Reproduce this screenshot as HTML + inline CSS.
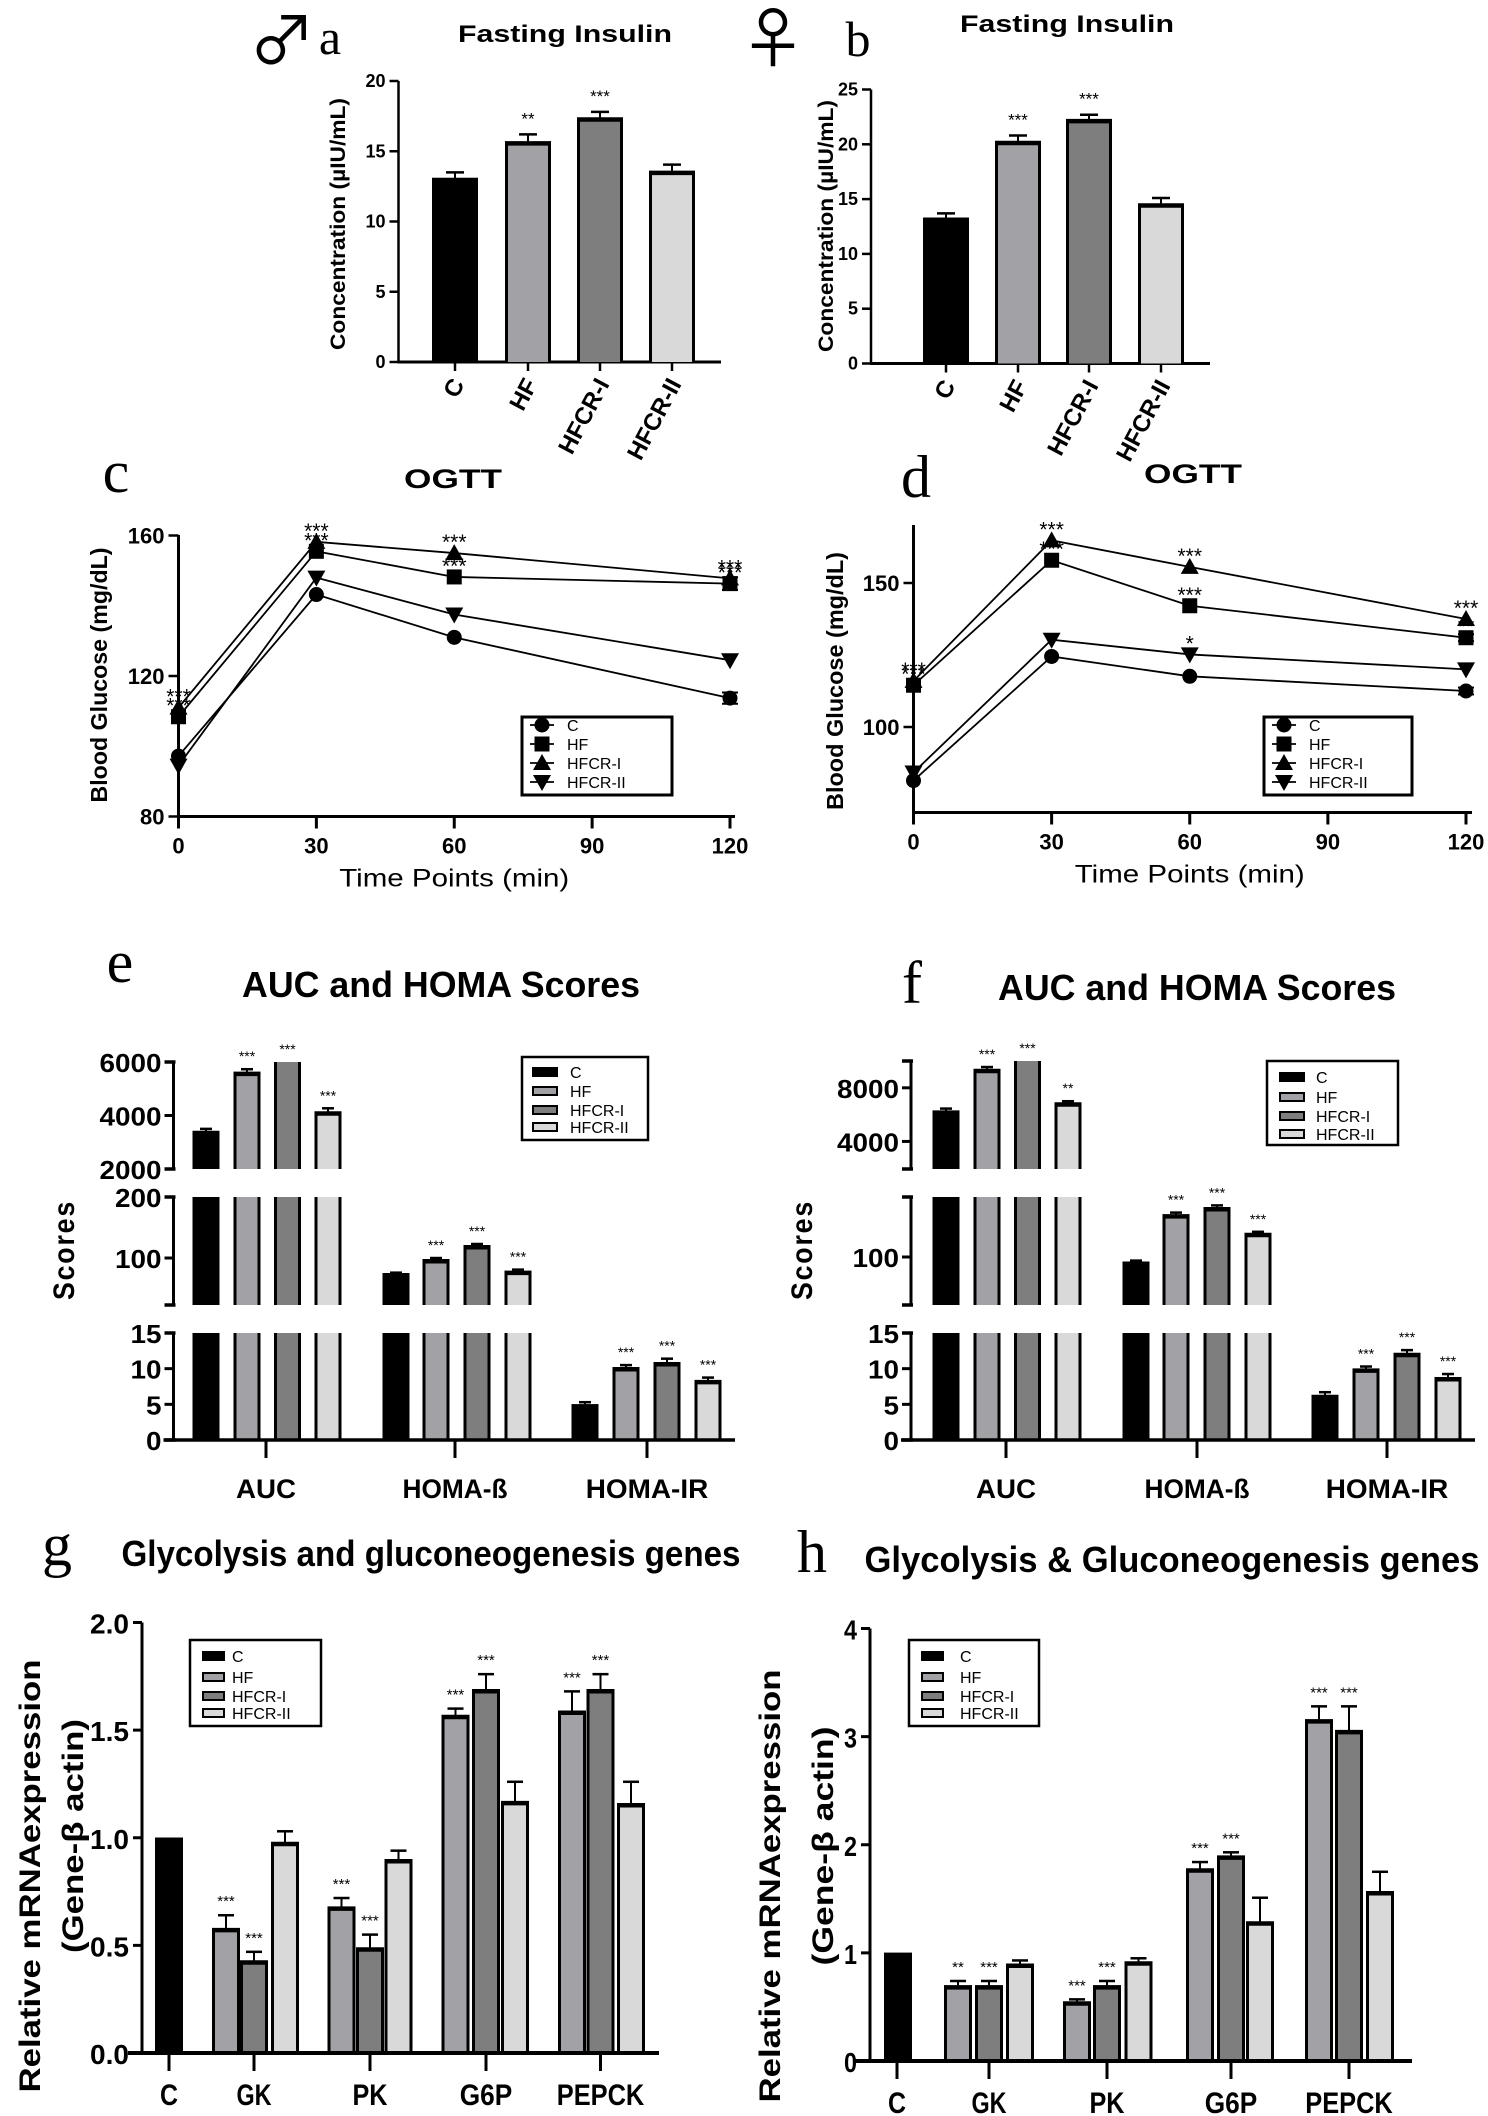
<!DOCTYPE html>
<html><head><meta charset="utf-8"><style>
html,body{margin:0;padding:0;background:#fff}
svg{display:block}
</style></head><body>
<svg id="fig" width="1488" height="2116" viewBox="0 0 1488 2116" xmlns="http://www.w3.org/2000/svg" font-family="'Liberation Sans', Arial, sans-serif"></svg>
<script>
// ---------- data ----------
const groups=['C','HF','HFCR-I','HFCR-II'];
const insulinMale=[13.1,15.7,17.4,13.6];
const insulinMaleErr=[0.4,0.5,0.4,0.45];
const insulinMaleSig=['','**','***',''];
const insulinFemale=[13.3,20.3,22.3,14.6];
const insulinFemaleErr=[0.4,0.5,0.4,0.5];
const insulinFemaleSig=['','***','***',''];
const insulinMaleTicks=[0,5,10,15,20];
const insulinFemaleTicks=[0,5,10,15,20,25];

const timePoints=[0,30,60,120];
const timeTicks=[0,30,60,90,120];
const ogttMaleC=[97.2,143.2,131,113.7];
const ogttMaleHF=[108.4,155.5,148.2,146.3];
const ogttMaleHFCR1=[111,158.2,155,147.8];
const ogttMaleHFCR2=[94.5,148,137.5,124.5];
const ogttMaleErrC=[0,0,0,1.6];
const ogttMaleErrHF=[0,0,0,1.8];
const ogttMaleSigHF=['***','***','***','***'];
const ogttMaleSigHFCR1=['***','***','***','***'];
const ogttMaleSigHFCR2=['','','',''];
const ogttMaleTicks=[80,120,160];
const ogttFemaleC=[81.4,124.5,117.6,112.5];
const ogttFemaleHF=[114.5,157.9,142.1,131];
const ogttFemaleHFCR1=[116,164.8,155.6,137.5];
const ogttFemaleHFCR2=[84.2,130.3,125.2,120];
const ogttFemaleErrC=[0,0,0,1.2];
const ogttFemaleErrHF=[0,0,0,1.2];
const ogttFemaleSigHF=['***','***','***','**'];
const ogttFemaleSigHFCR1=['***','***','***','***'];
const ogttFemaleSigHFCR2=['','','*',''];
const ogttFemaleTicks=[100,150];

const scoreCats=['AUC','HOMA-ß','HOMA-IR'];
const aucMale=[3420,5630,6250,4150];
const aucMaleErr=[80,100,0,120];
const aucMaleSig=['','***','***','***'];
const betaMale=[75,98,121,79];
const betaMaleErr=[1,2,2,2];
const betaMaleSig=['','***','***','***'];
const irMale=[5.0,10.2,10.9,8.4];
const irMaleErr=[0.3,0.3,0.5,0.35];
const irMaleSig=['','***','***','***'];
const aucFemale=[6300,9400,10100,6900];
const aucFemaleErr=[150,150,0,100];
const aucFemaleSig=['','***','***','**'];
const betaFemale=[92,171,183,140];
const betaFemaleErr=[2,3,3,2];
const betaFemaleSig=['','***','***','***'];
const irFemale=[6.3,10.0,12.2,8.8];
const irFemaleErr=[0.4,0.3,0.4,0.45];
const irFemaleSig=['','***','***','***'];

const genes=['C','GK','PK','G6P','PEPCK'];
const geneCtrl=1.0;
const gHF=[0.58,0.68,1.57,1.59];
const gHFErr=[0.06,0.04,0.03,0.09];
const gHFSig=['***','***','***','***'];
const gHFCR1=[0.43,0.49,1.69,1.69];
const gHFCR1Err=[0.04,0.06,0.07,0.07];
const gHFCR1Sig=['***','***','***','***'];
const gHFCR2=[0.98,0.90,1.17,1.16];
const gHFCR2Err=[0.05,0.04,0.09,0.10];
const gTicks=[0,0.5,1.0,1.5,2.0];
const hHF=[0.70,0.55,1.78,3.16];
const hHFErr=[0.04,0.02,0.06,0.12];
const hHFSig=['**','***','***','***'];
const hHFCR1=[0.70,0.70,1.90,3.06];
const hHFCR1Err=[0.04,0.04,0.03,0.22];
const hHFCR1Sig=['***','***','***','***'];
const hHFCR2=[0.90,0.92,1.29,1.57];
const hHFCR2Err=[0.03,0.03,0.22,0.18];
const hTicks=[0,1,2,3,4];

// ---------- helpers ----------
const NS='http://www.w3.org/2000/svg';
const svg=document.getElementById('fig');
const FILL=['#000','#a2a2a6','#7e7e7e','#d9d9d9'];
function mk(tag,attrs,parent){const e=document.createElementNS(NS,tag);for(const k in attrs)e.setAttribute(k,attrs[k]);(parent||svg).appendChild(e);return e;}
function grp(name){const g=mk('g',{});


return g;}
function T(p,x,y,s,size,opt){opt=opt||{};
const a={x:x,y:y,'font-size':size,'font-weight':opt.w||'bold','text-anchor':opt.a||'middle',fill:'#000'};
if(opt.len){a.textLength=opt.len;a.lengthAdjust='spacingAndGlyphs';}
if(opt.rot!==undefined)a.transform='rotate('+opt.rot+' '+x+' '+y+')';
if(opt.fam)a.style='font-family:'+opt.fam;
if(opt.ls)a['letter-spacing']=opt.ls;
const t=mk('text',a,p);t.textContent=s;


return t;}
function L(p,x1,y1,x2,y2,w){return mk('line',{x1:x1,y1:y1,x2:x2,y2:y2,stroke:'#000','stroke-width':w||2},p);}
function lin(d0,d1,r0,r1){return v=>r0+(v-d0)*(r1-r0)/(d1-d0);}
function bar(p,cx,w,yTop,yBase,fill,top,name){
  const r=mk('rect',{x:cx-w/2,y:yTop,width:w,height:Math.max(0,yBase-yTop),fill:fill},p);
  
  
  L(p,cx-w/2+1.5,yTop,cx-w/2+1.5,yBase,3);L(p,cx+w/2-1.5,yTop,cx+w/2-1.5,yBase,3);
  if(top)L(p,cx-w/2,yTop+2,cx+w/2,yTop+2,4.5);
}
function err(p,cx,yv,ye,cap){if(Math.abs(ye-yv)<0.5)return;L(p,cx,yv,cx,ye,2);L(p,cx-cap,ye,cx+cap,ye,2.5);}
function legendBars(p,x0,y0,x1,y1,ys,tx,sw0,sw1,fs){
  const r=mk('rect',{x:x0,y:y0,width:x1-x0,height:y1-y0,fill:'#fff',stroke:'#000','stroke-width':2.5},p);
  
  
  groups.forEach((g,i)=>{const s=mk('rect',{x:sw0,y:ys[i]-4,width:sw1-sw0,height:8,fill:FILL[i],stroke:'#000','stroke-width':2},p);
  
  
  T(p,tx,ys[i]+6,g,16,{w:'normal',a:'start',name:'legend-entry-'+g.toLowerCase()});});
}

// ---------- panel letters & symbols ----------
const hdr=grp('panel-headers');
const SERIF="'Liberation Serif',serif";
const SYM="'Noto Sans CJK JP','DejaVu Sans',sans-serif";
T(hdr,282,64,'♂',66,{w:'normal',fam:SYM,name:'male-symbol'});
T(hdr,330,54,'a',50,{w:'normal',fam:SERIF,name:'panel-label-a'});
T(hdr,773,62,'♀',66,{w:'normal',fam:SYM,name:'female-symbol'});
T(hdr,858,56,'b',50,{w:'normal',fam:SERIF,name:'panel-label-b'});
T(hdr,116,492,'c',60,{w:'normal',fam:SERIF,name:'panel-label-c'});
T(hdr,916,497,'d',60,{w:'normal',fam:SERIF,name:'panel-label-d'});
T(hdr,120,982,'e',60,{w:'normal',fam:SERIF,name:'panel-label-e'});
T(hdr,912,1003,'f',60,{w:'normal',fam:SERIF,name:'panel-label-f'});
T(hdr,57,1565,'g',60,{w:'normal',fam:SERIF,name:'panel-label-g'});
T(hdr,812,1572,'h',60,{w:'normal',fam:SERIF,name:'panel-label-h'});

// ---------- insulin bar charts ----------
function insulin(name,vals,errs,sig,ticks,axX,yTop,yBot,xEnd,centers,title,tx,ty,lx,ly){
  const p=grp(name);
  const y=lin(0,ticks[ticks.length-1],yBot,yTop);
  T(p,tx,ty,title,24,{len:214,name:'chart-title'});
  T(p,lx,ly,'Concentration (µIU/mL)',21,{rot:-90,len:252,name:'y-axis-title'});
  L(p,axX,yTop,axX,yBot+1,2.5);L(p,axX-1,yBot,xEnd,yBot,3);
  ticks.forEach(t=>{L(p,axX-9,y(t),axX,y(t),2.5);T(p,axX-13,y(t)+6,String(t),18,{a:'end',name:'y-tick-label'});});
  vals.forEach((v,i)=>{const cx=centers[i];
    bar(p,cx,46,y(v),yBot,FILL[i],true,'bar-'+groups[i].toLowerCase());
    err(p,cx,y(v),y(v+errs[i]),9);
    if(sig[i])T(p,cx,y(v+errs[i])-10,sig[i],17,{w:'normal',name:'significance-marker'});
    L(p,cx,yBot,cx,yBot+9,2.5);
    T(p,cx+10,yBot+22,groups[i],24,{a:'end',rot:-62,name:'x-tick-label'});
  });
}
insulin('insulin-male-chart',insulinMale,insulinMaleErr,insulinMaleSig,insulinMaleTicks,398.5,81,362,721,[455,528,600,672],'Fasting Insulin',565,42,345,224);
insulin('insulin-female-chart',insulinFemale,insulinFemaleErr,insulinFemaleSig,insulinFemaleTicks,871,89.5,363.5,1210,[946,1018,1089,1161],'Fasting Insulin',1067,32,833,226);

// ---------- OGTT ----------
function marker(p,k,x,y){
  let e;
  if(k===0)e=mk('circle',{cx:x,cy:y,r:7.5,fill:'#000'},p);
  else if(k===1)e=mk('rect',{x:x-7.5,y:y-7.5,width:15,height:15,fill:'#000'},p);
  else if(k===2)e=mk('path',{d:`M${x},${y-9}L${x+9},${y+7}L${x-9},${y+7}Z`,fill:'#000'},p);
  else e=mk('path',{d:`M${x},${y+9}L${x+9},${y-7}L${x-9},${y-7}Z`,fill:'#000'},p);
  
  
}
function ogtt(name,series,errsC,errsHF,sigHF,sigI,sigII,ticks,axX,xEnd,x120,yBot,yTopAxis,v0,y0,v1,y1,title,tx,ty,lgx0,lgx1){
  const p=grp(name);
  const x=lin(0,120,axX,x120);const y=lin(v0,v1,y0,y1);
  T(p,tx,ty,title,27,{len:98,name:'chart-title'});
  L(p,axX,yTopAxis,axX,yBot+12,3);L(p,axX-1,yBot,xEnd,yBot,3);
  ticks.forEach(t=>{L(p,axX-10,y(t),axX,y(t),2.5);T(p,axX-14,y(t)+8,String(t),22,{a:'end',name:'y-tick-label'});});
  timeTicks.forEach(t=>{L(p,x(t),yBot,x(t),yBot+12,3);T(p,x(t),yBot+37,String(t),22,{name:'x-tick-label'});});
  T(p,(axX+x120)/2,yBot+70,'Time Points (min)',25,{w:'normal',len:230,name:'x-axis-title'});
  series.forEach((s,k)=>{
    const pts=timePoints.map((t,i)=>x(t)+','+y(s[i])).join(' ');
    const pl=mk('polyline',{points:pts,fill:'none',stroke:'#000','stroke-width':1.8},p);
    
    
    s.forEach((v,i)=>marker(p,k,x(timePoints[i]),y(v)));
  });
  [errsC,errsHF].forEach((es,k)=>es.forEach((e,i)=>{if(e>0){const xx=x(timePoints[i]),v=series[k][i];
    L(p,xx,y(v-e),xx,y(v+e),2);L(p,xx-8,y(v-e),xx+8,y(v-e),2);L(p,xx-8,y(v+e),xx+8,y(v+e),2);}}));
  [[sigHF,1],[sigI,2],[sigII,3]].forEach(([sg,k])=>sg.forEach((s,i)=>{if(s)T(p,x(timePoints[i]),y(series[k][i])-4,s,21,{w:'normal',name:'significance-marker'});}));
  const ys=[725,744,763,782];
  const r=mk('rect',{x:lgx0,y:717,width:lgx1-lgx0,height:78,fill:'#fff',stroke:'#000','stroke-width':3},p);
  
  
  groups.forEach((g,k)=>{L(p,lgx0+8,ys[k],lgx0+32,ys[k],1.8);marker(p,k,lgx0+20,ys[k]);
    T(p,lgx0+45,ys[k]+6,g,16,{w:'normal',a:'start',name:'legend-entry-'+g.toLowerCase()});});
  return p;
}
const cp=ogtt('ogtt-male-chart',[ogttMaleC,ogttMaleHF,ogttMaleHFCR1,ogttMaleHFCR2],ogttMaleErrC,ogttMaleErrHF,ogttMaleSigHF,ogttMaleSigHFCR1,ogttMaleSigHFCR2,ogttMaleTicks,178.5,735,730,816.5,535,80,816.5,160,535.5,'OGTT',453,488,522,672);
T(cp,107,675,'Blood Glucose (mg/dL)',23,{rot:-90,len:255,name:'y-axis-title'});
const dp=ogtt('ogtt-female-chart',[ogttFemaleC,ogttFemaleHF,ogttFemaleHFCR1,ogttFemaleHFCR2],ogttFemaleErrC,ogttFemaleErrHF,ogttFemaleSigHF,ogttFemaleSigHFCR1,ogttFemaleSigHFCR2,ogttFemaleTicks,913.5,1472,1466,812.5,525,100,727,150,583,'OGTT',1193,483,1264,1412);
T(dp,843,681,'Blood Glucose (mg/dL)',23,{rot:-90,len:258,name:'y-axis-title'});

// ---------- AUC / HOMA broken-axis charts ----------
function scores(name,data,errs,sigs,segs,axX,xEnd,gx,bx,title,tx,ty,lx,leg){
  const p=grp(name);
  T(p,tx,ty,title,36,{len:398,name:'chart-title'});
  T(p,lx,1250,'Scores',30,{rot:-90,len:100,ls:2,name:'y-axis-title'});
  segs.forEach(s=>{const y=lin(s.lo,s.hi,s.yLo,s.yHi);
    L(p,axX,s.yHi,axX,s.yLo,3);
    L(p,axX-9,s.yHi,axX+2,s.yHi,3.5);L(p,axX-9,s.yLo,axX+2,s.yLo,3.5);
    s.ticks.forEach(t=>{L(p,axX-9,y(t),axX,y(t),3);T(p,axX-12,y(t)+10,String(t),26,{a:'end',len:String(t).length*15.5,name:'y-tick-label'});});
    data.forEach((vals,c)=>vals.forEach((v,i)=>{if(v<=s.lo)return;const top=Math.min(v,s.hi);
      bar(p,bx[c][i],27,y(top),s.yLo,FILL[i],v<=s.hi,'bar-'+scoreCats[c].toLowerCase()+'-'+groups[i].toLowerCase());
      if(v<=s.hi){err(p,bx[c][i],y(v),y(Math.min(v+errs[c][i],s.hi)),6);}
      const sy=(v<=s.hi?y(Math.min(v+errs[c][i],s.hi)):y(s.hi))-8;
      if(sigs[c][i]&&(v<=s.hi||s===segs[0]))T(p,bx[c][i],sy,sigs[c][i],14,{w:'normal',name:'significance-marker'});
    }));
  });
  L(p,axX-10,1440,xEnd,1440,3.5);
  scoreCats.forEach((c,i)=>{L(p,gx[i],1440,gx[i],1458,3);T(p,gx[i],1498,c,27,{len:c.length*(c==='AUC'?20:17.5),name:'x-tick-label'});});
  legendBars(p,leg[0],leg[1],leg[2],leg[3],leg[4],leg[5],leg[6],leg[7],16);
}
scores('scores-male-chart',[aucMale,betaMale,irMale],[aucMaleErr,betaMaleErr,irMaleErr],[aucMaleSig,betaMaleSig,irMaleSig],
 [{lo:2000,hi:6000,yLo:1169,yHi:1062,ticks:[2000,4000,6000]},{lo:23,hi:200,yLo:1305,yHi:1197,ticks:[100,200]},{lo:0,hi:15,yLo:1440,yHi:1333,ticks:[0,5,10,15]}],
 173.5,735,[266,455,647],[[206,247,287.5,328],[396,436,477,518],[585,626,667,708]],'AUC and HOMA Scores',441,997,74,
 [522,1057,648,1140,[1072,1091,1110,1127],570,533,557]);
scores('scores-female-chart',[aucFemale,betaFemale,irFemale],[aucFemaleErr,betaFemaleErr,irFemaleErr],[aucFemaleSig,betaFemaleSig,irFemaleSig],
 [{lo:1944,hi:10000,yLo:1169,yHi:1061,ticks:[4000,8000]},{lo:20,hi:200,yLo:1305,yHi:1197,ticks:[100]},{lo:0,hi:15,yLo:1440,yHi:1333,ticks:[0,5,10,15]}],
 911,1475,[1006,1197,1387],[[946,987,1027.5,1068],[1136,1176,1217,1258],[1325,1366,1407,1448]],'AUC and HOMA Scores',1197,1000,812,
 [1267,1061,1398,1145,[1077,1097,1116,1134],1316,1280,1304]);

// ---------- gene expression ----------
function genesChart(name,hf,hfE,hfS,c1,c1E,c1S,c2,c2E,ticks,axX,yTop,yBot,xS,xE,gx,bx,title,tx,ty,tlen,lx1,lx2,ly,len1,len2,leg){
  const p=grp(name);
  const y=lin(0,ticks[ticks.length-1],yBot,yTop);
  T(p,tx,ty,title,36,{len:tlen,name:'chart-title'});
  T(p,lx1,ly,'Relative mRNAexpression',30,{rot:-90,len:len1,name:'y-axis-title'});
  T(p,lx2,ly-40,'(Gene-β actin)',30,{rot:-90,len:len2,name:'y-axis-title-units'});
  L(p,axX,yTop,axX,yBot,3);
  ticks.forEach(t=>{L(p,axX-9,y(t),axX,y(t),3);const s=ticks[ticks.length-1]<3?t.toFixed(1):String(t);
    T(p,axX-13,y(t)+11,s,28,{a:'end',len:s.length*13,name:'y-tick-label'});});
  bar(p,bx[0][0],28,y(geneCtrl),yBot,FILL[0],true,'bar-c');
  [[hf,hfE,hfS,1],[c1,c1E,c1S,2],[c2,c2E,null,3]].forEach(([vals,es,ss,k])=>vals.forEach((v,i)=>{const cx=bx[i+1][k-1];
    bar(p,cx,28,y(v),yBot,FILL[k],true,'bar-'+genes[i+1].toLowerCase()+'-'+groups[k].toLowerCase());
    err(p,cx,y(v),y(v+es[i]),8);
    if(ss&&ss[i])T(p,cx,y(v+es[i])-9,ss[i],15,{w:'normal',name:'significance-marker'});}));
  L(p,xS,yBot,xE,yBot,4);
  genes.forEach((g,i)=>{L(p,gx[i],yBot,gx[i],yBot+18,3);T(p,gx[i],yBot+52,g,30,{len:g.length*(g==='C'?18:17.5),name:'x-tick-label'});});
  legendBars(p,leg[0],leg[1],leg[2],leg[3],leg[4],leg[5],leg[6],leg[7],16);
}
genesChart('genes-male-chart',gHF,gHFErr,gHFSig,gHFCR1,gHFCR1Err,gHFCR1Sig,gHFCR2,gHFCR2Err,gTicks,142,1622.5,2053,128,659,
 [169,254,370,486,600.5],[[169],[226,254,285],[341.5,370,398.5],[455.5,486,515],[572,600.5,631]],
 'Glycolysis and gluconeogenesis genes',431,1566,619,40,83,1876,433,234,[190,1640,321,1726,[1656,1677,1696,1713],232,203,224]);
genesChart('genes-female-chart',hHF,hHFErr,hHFSig,hHFCR1,hHFCR1Err,hHFCR1Sig,hHFCR2,hHFCR2Err,hTicks,870,1628.5,2061,854,1412,
 [897,989,1107,1231,1349],[[898],[958,989,1020],[1077,1107,1138.5],[1200,1231,1260],[1319,1349,1380]],
 'Glycolysis & Gluconeogenesis genes',1172,1572,615,780,833,1886,433,239,[909,1640,1039,1726,[1656,1677,1696,1713],960,922,943]);
</script>
</body></html>
